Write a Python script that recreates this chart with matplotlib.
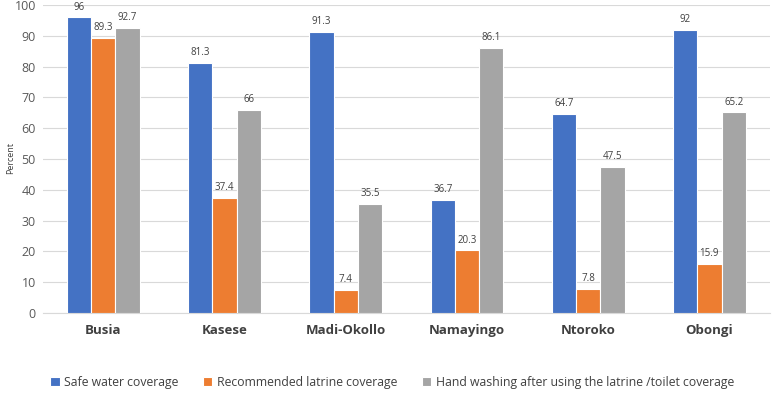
import matplotlib.pyplot as plt
import numpy as np

plt.rcParams["font.family"] = ["Open Sans", "DejaVu Sans"]

districts = ["Busia", "Kasese", "Madi-Okollo", "Namayingo", "Ntoroko", "Obongi"]
safe_water = [96, 81.3, 91.3, 36.7, 64.7, 92]
latrine = [89.3, 37.4, 7.4, 20.3, 7.8, 15.9]
hand_washing = [92.7, 66, 35.5, 86.1, 47.5, 65.2]

series = [
    ("Safe water coverage", safe_water, "#4472C4"),
    ("Recommended latrine coverage", latrine, "#ED7D31"),
    ("Hand washing after using the latrine /toilet coverage", hand_washing, "#A5A5A5"),
]

fig = plt.figure(figsize=(7.77, 3.94), dpi=100)
ax = fig.add_axes([0.055, 0.206, 0.936, 0.781])

x = np.arange(len(districts))
w = 0.2
for i, (name, vals, col) in enumerate(series):
    bars = ax.bar(x + (i - 1) * w, vals, w, color=col, edgecolor="white",
                  linewidth=0.8, label=name, zorder=3)
    for b, v in zip(bars, vals):
        ax.text(b.get_x() + b.get_width() / 2, v + 1.5, f"{v:g}",
                ha="center", va="bottom", fontsize=7, color="#404040")

ax.set_xlim(-0.5, len(districts) - 0.5)
ax.set_ylim(0, 100)
ax.set_yticks(range(0, 101, 10))
ax.yaxis.grid(True, color="#D9D9D9", linewidth=0.8, zorder=0)
ax.set_xticks(x)
ax.set_xticklabels(districts, fontsize=9.5, fontweight="bold", color="#404040")
ax.tick_params(axis="y", labelsize=9, colors="#595959", length=0, pad=5)
ax.tick_params(axis="x", length=0, pad=8)
for s in ["top", "right", "left"]:
    ax.spines[s].set_visible(False)
ax.spines["bottom"].set_color("#D9D9D9")

fig.text(0.014, 0.6, "Percent", rotation=90, ha="center", va="center",
         fontsize=6.5, color="#404040")

fig.legend(loc="lower center", bbox_to_anchor=(0.505, -0.015), ncol=3, frameon=False,
           fontsize=8.8, handlelength=0.75, handleheight=0.75, handletextpad=0.4,
           columnspacing=2.0, labelcolor="#404040")

fig.savefig("out.png", dpi=100)
